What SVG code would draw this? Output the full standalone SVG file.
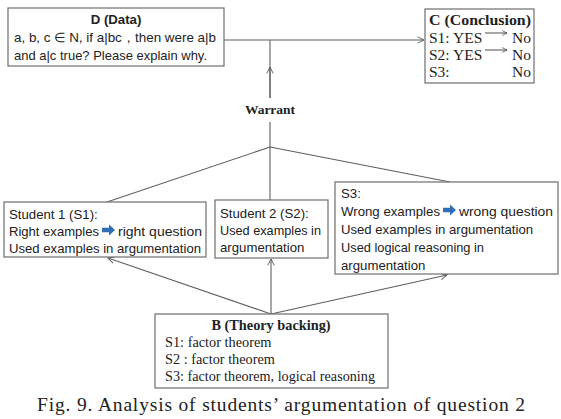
<svg xmlns="http://www.w3.org/2000/svg" width="561" height="419" viewBox="0 0 561 419">
  <style>
    .box { fill: #ffffff; stroke: #6e6e6e; stroke-width: 1.2; }
    .line { fill: none; stroke: #5f5f5f; stroke-width: 1.1; }
    .sans { font-family: "Liberation Sans", "Open Sans", sans-serif; font-size: 13.2px; fill: #222; }
    .serif { font-family: "Liberation Serif", serif; font-size: 14.3px; fill: #222; }
    .concl { font-size: 15.5px; }
    .bold { font-weight: bold; }
    .blue { fill: #2f6db5; }
  </style>
  <defs>
    <marker id="open" viewBox="0 0 10 10" refX="9" refY="5" markerWidth="8" markerHeight="8" orient="auto" markerUnits="userSpaceOnUse">
      <path d="M1,1 L9,5 L1,9" fill="none" stroke="#5f5f5f" stroke-width="1.2"/>
    </marker>
    <marker id="small" viewBox="0 0 10 10" refX="9" refY="5" markerWidth="6" markerHeight="6" orient="auto" markerUnits="userSpaceOnUse">
      <path d="M1,1 L9,5 L1,9" fill="none" stroke="#444" stroke-width="1.2"/>
    </marker>
    <!-- thick block arrow used between phrases -->
    <path id="bluearrow" d="M0,-2.2 L7,-2.2 L7,-5.5 L13,0 L7,5.5 L7,2.2 L0,2.2 Z"/>
  </defs>

  <!-- connectors -->
  <g id="connectors">
    <path class="line" d="M224,40 H424" marker-end="url(#open)"/>
    <path class="line" d="M270,98 V40"/>
    <path class="line" d="M270,98 V67" marker-end="url(#open)"/>
    <path class="line" d="M270,122 V147"/>
    <path class="line" d="M270,147 L107,202"/>
    <path class="line" d="M270,147 V200"/>
    <path class="line" d="M270,147 L450,182"/>
    <path class="line" d="M271,314 L108,258" marker-end="url(#open)"/>
    <path class="line" d="M271,314 V259" marker-end="url(#open)"/>
    <path class="line" d="M271,314 L447,275" marker-end="url(#open)"/>
  </g>

  <!-- D (Data) -->
  <g id="data">
    <rect class="box" x="8" y="8" width="216" height="58"/>
    <text class="sans bold" x="116" y="24" text-anchor="middle">D (Data)</text>
    <text class="sans" x="14" y="42" textLength="202" lengthAdjust="spacingAndGlyphs">a, b, c ∈ N, if a|bc，then were a|b</text>
    <text class="sans" x="14" y="60" textLength="193" lengthAdjust="spacingAndGlyphs">and a|c true? Please explain why.</text>
  </g>

  <!-- C (Conclusion) -->
  <g id="conclusion">
    <rect class="box" x="425" y="9" width="109" height="74"/>
    <text class="serif concl bold" x="429" y="25" textLength="102" lengthAdjust="spacingAndGlyphs">C (Conclusion)</text>
    <text class="serif concl" x="429" y="43">S1: YES</text>
    <text class="serif concl" x="531" y="43" text-anchor="end">No</text>
    <path class="line" d="M485,33 H507" marker-end="url(#small)"/>
    <text class="serif concl" x="429" y="60">S2: YES</text>
    <text class="serif concl" x="531" y="60" text-anchor="end">No</text>
    <path class="line" d="M485,50 H507" marker-end="url(#small)"/>
    <text class="serif concl" x="429" y="77">S3:</text>
    <text class="serif concl" x="531" y="77" text-anchor="end">No</text>
  </g>

  <!-- Warrant label -->
  <g id="warrant">
    <text class="serif bold" x="270" y="114" text-anchor="middle" style="font-size:13.5px">Warrant</text>
  </g>

  <!-- Student 1 -->
  <g id="s1">
    <rect class="box" x="4" y="202" width="202" height="55"/>
    <text class="sans" x="9" y="219">Student 1 (S1):</text>
    <text class="sans" x="9" y="236" textLength="90" lengthAdjust="spacingAndGlyphs">Right examples</text>
    <use href="#bluearrow" class="blue" x="102" y="230"/>
    <text class="sans" x="118" y="236" textLength="84" lengthAdjust="spacingAndGlyphs">right question</text>
    <text class="sans" x="9" y="253" textLength="192" lengthAdjust="spacingAndGlyphs">Used examples in argumentation</text>
  </g>

  <!-- Student 2 -->
  <g id="s2">
    <rect class="box" x="215" y="200" width="113" height="58"/>
    <text class="sans" x="220" y="218">Student 2 (S2):</text>
    <text class="sans" x="220" y="235" textLength="101" lengthAdjust="spacingAndGlyphs">Used examples in</text>
    <text class="sans" x="220" y="252">argumentation</text>
  </g>

  <!-- Student 3 -->
  <g id="s3">
    <rect class="box" x="335" y="182" width="223" height="92"/>
    <text class="sans" x="341" y="198">S3:</text>
    <text class="sans" x="341" y="216" textLength="99" lengthAdjust="spacingAndGlyphs">Wrong examples</text>
    <use href="#bluearrow" class="blue" x="443" y="210"/>
    <text class="sans" x="459" y="216" textLength="94" lengthAdjust="spacingAndGlyphs">wrong question</text>
    <text class="sans" x="341" y="234" textLength="192" lengthAdjust="spacingAndGlyphs">Used examples in argumentation</text>
    <text class="sans" x="341" y="252" textLength="143" lengthAdjust="spacingAndGlyphs">Used logical reasoning in</text>
    <text class="sans" x="341" y="270">argumentation</text>
  </g>

  <!-- B (Theory backing) -->
  <g id="backing">
    <rect class="box" x="155" y="314" width="233" height="74"/>
    <text class="serif bold" x="271" y="330" text-anchor="middle">B (Theory backing)</text>
    <text class="serif" x="165" y="347">S1: factor theorem</text>
    <text class="serif" x="165" y="364">S2 : factor theorem</text>
    <text class="serif" x="165" y="381" textLength="210" lengthAdjust="spacingAndGlyphs">S3: factor theorem, logical reasoning</text>
  </g>

  <!-- caption -->
  <text class="serif" x="37" y="411" style="font-size:19.5px" textLength="488" lengthAdjust="spacing">Fig. 9. Analysis of students’ argumentation of question 2</text>
</svg>
